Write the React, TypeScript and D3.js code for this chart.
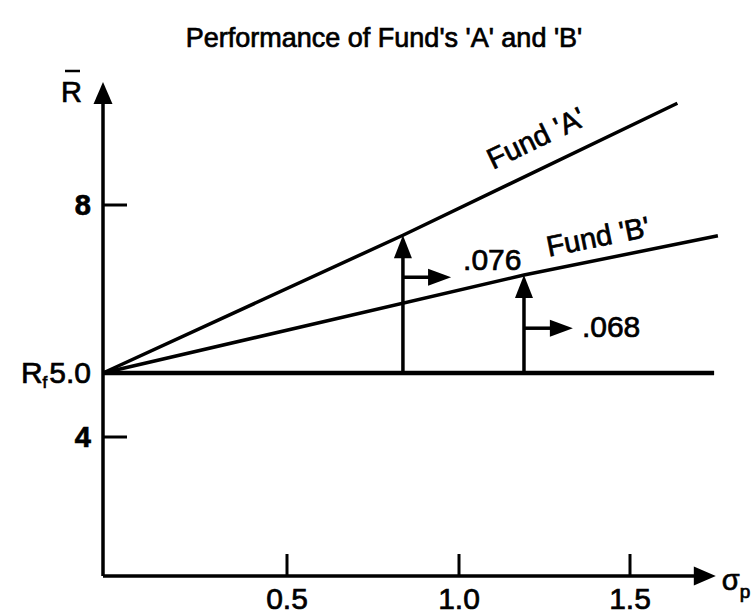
import React from 'react';
import * as d3 from 'd3';

const W = 756;
const H = 614;

const title = "Performance of Fund's 'A' and 'B'";

const xTicks = [0.5, 1.0, 1.5];
const xTickLabels = ['0.5', '1.0', '1.5'];
const yTicks = [8, 4];
const yTickLabels = ['8', '4'];

const riskFree = 5.0;
const riskFreeLabel = '5.0';
const riskFreeEnd = 1.745;

// Each fund's line: intercept at the risk-free rate, the point where the
// ratio arrow is raised, and the end of the drawn line.
const fundNames = ["Fund 'A'", "Fund 'B'"];
const fundSigma = [
  [0, 0.837, 1.638],
  [0, 1.19, 1.756],
];
const fundReturn = [
  [5.0, 7.46, 9.82],
  [5.0, 6.75, 7.45],
];
const fundLabelSigma = [1.125, 1.27];

// Ratio annotations: level of the side arrow, where it ends, and its text.
const ratioLabels = ['.076', '.068'];
const ratioLevel = [6.71, 5.8];
const ratioArrowEnd = [0.977, 1.333];

const xAxisEnd = 1.75;
const yAxisTop = 10.2;
const yAxisBase = 1.83;

const FONT = "'Liberation Sans', Arial, Helvetica, sans-serif";

export default function App() {
  // Hand-drawn axes are not uniformly spaced, so use piecewise-linear scales.
  const x = d3.scaleLinear().domain([0, 0.5, 1.0, 1.5, 1.8]).range([103, 287, 459, 630, 733]);
  const y = d3.scaleLinear().domain([yAxisBase, 4, 5, 8, 10.2]).range([576, 437, 373, 205, 82]);

  const x0 = x(0);
  const yBase = y(yAxisBase);

  const line = d3
    .line<[number, number]>()
    .x((d) => x(d[0]))
    .y((d) => y(d[1]));

  const headUp = (tx: number, ty: number, len = 22, hw = 9) =>
    `M${tx},${ty} L${tx - hw},${ty + len} L${tx + hw},${ty + len} Z`;
  const headRight = (tx: number, ty: number, len = 22, hw = 8.5) =>
    `M${tx},${ty} L${tx - len},${ty - hw} L${tx - len},${ty + hw} Z`;

  // slightly heavy type, like a printed figure
  const textStyle: React.CSSProperties = {
    fontFamily: FONT,
    stroke: '#000',
    strokeWidth: 0.7,
    fill: '#000',
  };

  return (
    <svg
      width={W}
      height={H}
      viewBox={`0 0 ${W} ${H}`}
      style={{ position: 'absolute', left: 0, top: 0, background: '#fff' }}
    >
      <rect width={W} height={H} fill="#fff" />

      {/* title */}
      <text x={384} y={47} textAnchor="middle" fontSize={27} style={textStyle}>
        {title}
      </text>

      {/* y axis */}
      <line x1={x0} y1={yBase} x2={x0} y2={y(yAxisTop) + 18} stroke="#000" strokeWidth={3.5} />
      <path d={headUp(x0, y(yAxisTop), 22, 9.5)} fill="#000" />
      <text x={x0 - 21} y={y(yAxisTop) + 20} textAnchor="end" fontSize={29} style={textStyle}>
        R
      </text>
      <line x1={x0 - 38} x2={x0 - 23} y1={y(yAxisTop) - 11} y2={y(yAxisTop) - 11} stroke="#000" strokeWidth={2.5} />

      {/* y ticks */}
      {yTicks.map((t, i) => (
        <g key={`yt${i}`}>
          <line x1={x0} x2={x0 + 24} y1={y(t)} y2={y(t)} stroke="#000" strokeWidth={3} />
          <text x={x0 - 12} y={y(t) + 10} textAnchor="end" fontSize={29} fontWeight="bold" style={textStyle}>
            {yTickLabels[i]}
          </text>
        </g>
      ))}

      {/* risk-free label */}
      <text x={x0 - 12} y={y(riskFree) + 10} textAnchor="end" fontSize={30} style={textStyle}>
        R
        <tspan fontSize={17} dy={5}>f</tspan>
        <tspan dy={-5} dx={2}>{riskFreeLabel}</tspan>
      </text>

      {/* x axis */}
      <line x1={x0} y1={yBase} x2={x(xAxisEnd) - 18} y2={yBase} stroke="#000" strokeWidth={3.5} />
      <path d={headRight(x(xAxisEnd), yBase, 22, 9.5)} fill="#000" />
      <text x={x(xAxisEnd) + 6} y={yBase + 14} fontSize={29} style={textStyle}>
        σ<tspan fontSize={19} dy={8}>p</tspan>
      </text>

      {/* x ticks */}
      {xTicks.map((t, i) => (
        <g key={`xt${i}`}>
          <line x1={x(t)} x2={x(t)} y1={yBase} y2={yBase - 22} stroke="#000" strokeWidth={3} />
          <text x={x(t)} y={yBase + 33} textAnchor="middle" fontSize={30} style={textStyle}>
            {xTickLabels[i]}
          </text>
        </g>
      ))}

      {/* risk-free line */}
      <line x1={x0} x2={x(riskFreeEnd)} y1={y(riskFree)} y2={y(riskFree)} stroke="#000" strokeWidth={4.5} />

      {/* fund lines */}
      {fundNames.map((name, i) => {
        const pts = fundSigma[i].map((s, j) => [s, fundReturn[i][j]] as [number, number]);
        const [, mid, end] = pts;
        const ang = (Math.atan2(y(end[1]) - y(mid[1]), x(end[0]) - x(mid[0])) * 180) / Math.PI;
        const ls = fundLabelSigma[i];
        const t = (ls - mid[0]) / (end[0] - mid[0]);
        const lr = mid[1] + t * (end[1] - mid[1]);
        const lx = x(ls);
        const ly = y(lr);
        const off = i === 0 ? 20 : 13;
        const rad = (ang * Math.PI) / 180;
        const px = lx + Math.sin(rad) * off;
        const py = ly - Math.cos(rad) * off;
        return (
          <g key={`f${i}`}>
            <path d={line(pts) || ''} fill="none" stroke="#000" strokeWidth={3.5} strokeLinejoin="round" />
            <text
              x={px}
              y={py}
              fontSize={29}
              style={textStyle}
              transform={`rotate(${ang},${px},${py})`}
            >
              {name}
            </text>
          </g>
        );
      })}

      {/* ratio arrows */}
      {fundNames.map((_, i) => {
        const s = fundSigma[i][1];
        const r = fundReturn[i][1];
        const vx = x(s);
        const tipY = y(r);
        const hy = y(ratioLevel[i]);
        const hx = x(ratioArrowEnd[i]);
        return (
          <g key={`a${i}`}>
            <line x1={vx} x2={vx} y1={y(riskFree)} y2={tipY + 18} stroke="#000" strokeWidth={3.5} />
            <path d={headUp(vx, tipY, 23, 9)} fill="#000" />
            <line x1={vx} x2={hx - 18} y1={hy} y2={hy} stroke="#000" strokeWidth={3.5} />
            <path d={headRight(hx, hy, 23, 8.5)} fill="#000" />
          </g>
        );
      })}

      {/* ratio labels */}
      <text x={x(ratioArrowEnd[0]) + 12} y={y(ratioLevel[0]) - 7} fontSize={30} style={textStyle}>
        {ratioLabels[0]}
      </text>
      <text x={x(ratioArrowEnd[1]) + 9} y={y(ratioLevel[1]) + 9} fontSize={30} style={textStyle}>
        {ratioLabels[1]}
      </text>
    </svg>
  );
}
